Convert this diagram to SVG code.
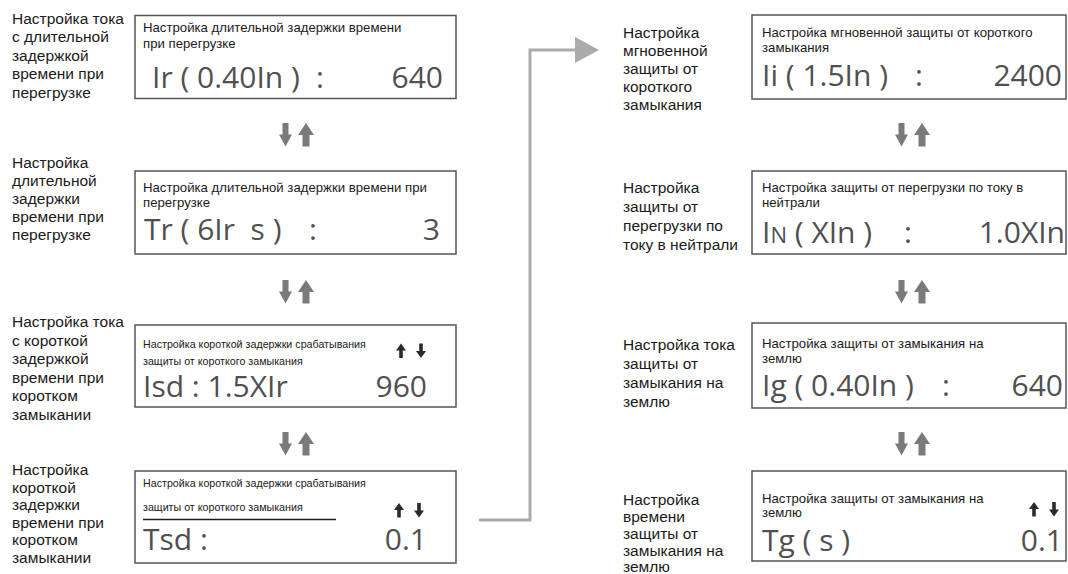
<svg xmlns="http://www.w3.org/2000/svg" width="1068" height="574" viewBox="0 0 1068 574">
<style>
.lbl{font-family:"Liberation Sans",Arial,sans-serif;font-size:15.5px;fill:#1a1a1a}
.ttl{font-family:"Liberation Sans",Arial,sans-serif;font-size:13.2px;fill:#1a1a1a}
.ttls{font-family:"Liberation Sans",Arial,sans-serif;font-size:10.7px;fill:#1a1a1a}
.val{font-family:"Open Sans","Noto Sans",sans-serif;font-size:30px;fill:#505050}
.box{fill:#fff;stroke:#555;stroke-width:1.5}
.nav{fill:#7a7a7a}
.sm{fill:#2a2a2a}
.conn{fill:none;stroke:#ababab;stroke-width:3}
</style>
<defs>
<g id="pair">
<rect class="nav" x="3.5" y="0" width="6" height="12"/>
<polygon class="nav" points="0,11.5 13,11.5 6.5,23.5"/>
<polygon class="nav" points="19,12 35,12 27,0"/>
<rect class="nav" x="23.5" y="11.5" width="7" height="12"/>
</g>
<g id="ud">
<polygon class="sm" points="0,7 10,7 5,0"/>
<rect class="sm" x="3.2" y="6.5" width="3.6" height="8"/>
<rect class="sm" x="23.2" y="0" width="3.6" height="8"/>
<polygon class="sm" points="20,7.5 30,7.5 25,14.5"/>
</g>
</defs>
<rect width="1068" height="574" fill="#fff"/>

<g id="connectors">
<path class="conn" d="M479,520 H530 V50 H577"/>
<polygon points="575,37 599,50 575,63" fill="#ababab"/>
<use href="#pair" x="279" y="123"/>
<use href="#pair" x="279" y="280"/>
<use href="#pair" x="279" y="432"/>
<use href="#pair" x="895" y="123"/>
<use href="#pair" x="895" y="280"/>
<use href="#pair" x="895" y="432"/>
</g>

<g id="node-ir">
<text class="lbl"><tspan x="12" y="23.5">Настройка тока</tspan><tspan x="12" y="42">с длительной</tspan><tspan x="12" y="60.5">задержкой</tspan><tspan x="12" y="79">времени при</tspan><tspan x="12" y="97.5">перегрузке</tspan></text>
<rect class="box" x="135" y="15.5" width="321" height="83"/>
<text class="ttl"><tspan x="143" y="32">Настройка длительной задержки времени</tspan><tspan x="143" y="48">при перегрузке</tspan></text>
<text class="val" x="152" y="88">Ir ( 0.40In )</text>
<text class="val" x="316" y="88">:</text>
<text class="val" x="443" y="88" text-anchor="end">640</text>
</g>

<g id="node-tr">
<text class="lbl"><tspan x="12" y="168">Настройка</tspan><tspan x="12" y="186">длительной</tspan><tspan x="12" y="204">задержки</tspan><tspan x="12" y="222">времени при</tspan><tspan x="12" y="240">перегрузке</tspan></text>
<rect class="box" x="135" y="171" width="321" height="83"/>
<text class="ttl"><tspan x="143" y="191.5">Настройка длительной задержки времени при</tspan><tspan x="143" y="207">перегрузке</tspan></text>
<text class="val" x="144" y="240" xml:space="preserve">Tr ( 6Ir  s )</text>
<text class="val" x="309" y="240">:</text>
<text class="val" x="440" y="240" text-anchor="end">3</text>
</g>

<g id="node-isd">
<text class="lbl"><tspan x="12" y="327">Настройка тока</tspan><tspan x="12" y="345.5">с короткой</tspan><tspan x="12" y="364">задержкой</tspan><tspan x="12" y="382.5">времени при</tspan><tspan x="12" y="401">коротком</tspan><tspan x="12" y="419.5">замыкании</tspan></text>
<rect class="box" x="135" y="325" width="321" height="82"/>
<text class="ttls"><tspan x="143" y="348">Настройка короткой задержки срабатывания</tspan><tspan x="143" y="365">защиты от короткого замыкания</tspan></text>
<use href="#ud" x="396" y="343.5"/>
<text class="val" x="143" y="397">Isd : 1.5XIr</text>
<text class="val" x="427" y="397" text-anchor="end">960</text>
</g>

<g id="node-tsd">
<text class="lbl"><tspan x="12" y="475">Настройка</tspan><tspan x="12" y="492.5">короткой</tspan><tspan x="12" y="510">задержки</tspan><tspan x="12" y="527.5">времени при</tspan><tspan x="12" y="545">коротком</tspan><tspan x="12" y="562.5">замыкании</tspan></text>
<rect class="box" x="135" y="471" width="321" height="92"/>
<text class="ttls"><tspan x="143" y="487">Настройка короткой задержки срабатывания</tspan><tspan x="143" y="511">защиты от короткого замыкания</tspan></text>
<line x1="143" y1="519.5" x2="336" y2="519.5" stroke="#1a1a1a" stroke-width="1.5"/>
<use href="#ud" x="394" y="503"/>
<text class="val" x="143" y="550">Tsd :</text>
<text class="val" x="427" y="550" text-anchor="end">0.1</text>
</g>

<g id="node-ii">
<text class="lbl"><tspan x="623" y="38">Настройка</tspan><tspan x="623" y="56">мгновенной</tspan><tspan x="623" y="74">защиты от</tspan><tspan x="623" y="92">короткого</tspan><tspan x="623" y="110">замыкания</tspan></text>
<rect class="box" x="752" y="15" width="314" height="84"/>
<text class="ttl"><tspan x="762" y="36.5">Настройка мгновенной защиты от короткого</tspan><tspan x="762" y="52">замыкания</tspan></text>
<text class="val" x="762" y="86">Ii ( 1.5In )</text>
<text class="val" x="915" y="86">:</text>
<text class="val" x="1062" y="86" text-anchor="end">2400</text>
</g>

<g id="node-in">
<text class="lbl"><tspan x="623" y="193">Настройка</tspan><tspan x="623" y="212">защиты от</tspan><tspan x="623" y="231">перегрузки по</tspan><tspan x="623" y="250">току в нейтрали</tspan></text>
<rect class="box" x="752" y="171" width="314" height="83"/>
<text class="ttl"><tspan x="762" y="191.5">Настройка защиты от перегрузки по току в</tspan><tspan x="762" y="207">нейтрали</tspan></text>
<text class="val" x="762" y="243">I<tspan font-size="22">N</tspan> ( XIn )</text>
<text class="val" x="904" y="243">:</text>
<text class="val" x="1065" y="243" text-anchor="end">1.0XIn</text>
</g>

<g id="node-ig">
<text class="lbl"><tspan x="623" y="350">Настройка тока</tspan><tspan x="623" y="369">защиты от</tspan><tspan x="623" y="388">замыкания на</tspan><tspan x="623" y="407">землю</tspan></text>
<rect class="box" x="752" y="323" width="314" height="85"/>
<text class="ttl"><tspan x="762" y="348">Настройка защиты от замыкания на</tspan><tspan x="762" y="362.5">землю</tspan></text>
<text class="val" x="762" y="396">Ig ( 0.40In )</text>
<text class="val" x="942" y="396">:</text>
<text class="val" x="1063" y="396" text-anchor="end">640</text>
</g>

<g id="node-tg">
<text class="lbl"><tspan x="623" y="505">Настройка</tspan><tspan x="623" y="522">времени</tspan><tspan x="623" y="539">защиты от</tspan><tspan x="623" y="556">замыкания на</tspan><tspan x="623" y="572">землю</tspan></text>
<rect class="box" x="752" y="471" width="314" height="90"/>
<text class="ttl"><tspan x="762" y="502.5">Настройка защиты от замыкания на</tspan><tspan x="762" y="517">землю</tspan></text>
<use href="#ud" x="1029" y="502"/>
<text class="val" x="762" y="551">Tg ( s )</text>
<text class="val" x="1063" y="551" text-anchor="end">0.1</text>
</g>
</svg>
